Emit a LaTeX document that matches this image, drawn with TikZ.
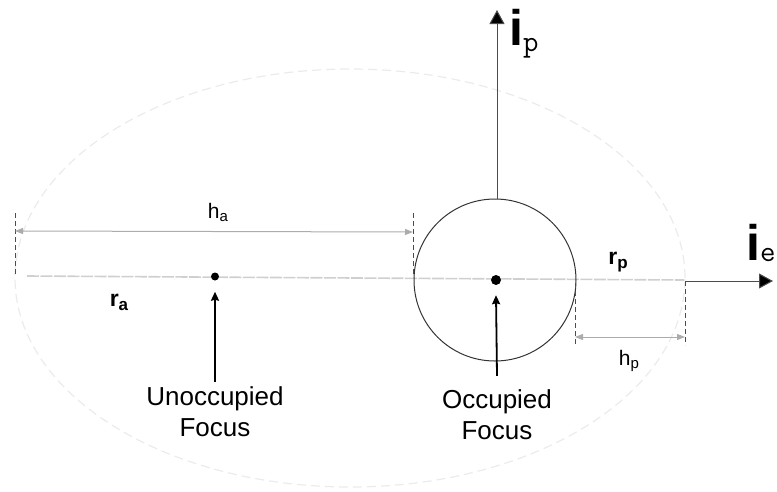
\documentclass[tikz,border=0pt]{standalone}
\usepackage{fontspec}
\setmainfont{Liberation Sans}
\usetikzlibrary{arrows.meta}
\newcommand{\hsub}[1]{\raisebox{-3pt}{\fontsize{15}{15}\selectfont #1}}
\newcommand{\rsub}[1]{\raisebox{-4pt}{\fontsize{17}{17}\selectfont\bfseries #1}}
\newcommand{\axsub}[2]{\raisebox{#1}{\fontsize{30}{30}\selectfont\mdseries\ttfamily #2}}
\begin{document}
\begin{tikzpicture}[x=1pt,y=-1pt,
  orbit/.style={draw=gray!16, line width=1.2pt, dash pattern=on 9pt off 5pt},
  axisline/.style={draw=gray!38, line width=1.6pt, dash pattern=on 12pt off 1.5pt},
  planet/.style={circle, draw=black!80, line width=1pt, minimum size=162pt, inner sep=0pt},
  dot/.style={circle, fill=black, inner sep=0pt},
  guide/.style={draw=black!70, line width=0.9pt, dash pattern=on 5pt off 3pt},
  dimline/.style={draw=gray!65, line width=1pt, {Triangle[length=8pt,width=6pt]}-{Triangle[length=8pt,width=6pt]}},
  pointer/.style={draw=black, line width=1.8pt, -{Stealth[length=9pt,width=8pt,inset=1pt]}},
  axisarr/.style={draw=black!70, line width=1pt, -{Triangle[length=14pt,width=15pt,fill=black]}},
  lbl/.style={font=\fontsize{26}{31}\selectfont, align=center, inner sep=0pt},
  dimlbl/.style={font=\fontsize{21}{24}\selectfont, inner sep=0pt},
  rlbl/.style={font=\fontsize{23}{26}\selectfont\bfseries, inner sep=0pt},
  axlbl/.style={font=\fontsize{50}{50}\selectfont\bfseries, inner sep=0pt, anchor=base west}
]
\useasboundingbox (0,0) rectangle (777,491);
% faint orbit
\draw[orbit] (350,278) ellipse [x radius=335pt, y radius=209pt];
% apse line
\coordinate (axL) at (27,276);
\coordinate (axR) at (684,280);
\draw[axisline] (axL) -- (axR);
% planet and foci
\node[planet] (planet) at (495,280) {};
\node[dot, minimum size=8pt] (ufoc) at (215,276.5) {};
\node[dot, minimum size=10pt] (ofoc) at (496,280) {};
% guides
\coordinate (gA1) at (15,213); \coordinate (gA2) at (15,274);
\coordinate (gB1) at (413,213); \coordinate (gB2) at (413,277);
\coordinate (gC1) at (575,283); \coordinate (gC2) at (575,345);
\coordinate (gD1) at (685,281); \coordinate (gD2) at (685,345);
\draw[guide] (gA1) -- (gA2);
\draw[guide] (gB1) -- (gB2);
\draw[guide] (gC1) -- (gC2);
\draw[guide] (gD1) -- (gD2);
% dimension lines
\coordinate (haL) at (15,231); \coordinate (haR) at (413,232);
\draw[dimline] (haL) -- (haR);
\coordinate (hpL) at (575,337); \coordinate (hpR) at (685,337);
\draw[dimline] (hpL) -- (hpR);
\node[dimlbl] (ha) at (218,212) {h\hsub{a}};
\node[dimlbl] (hp) at (629,361) {h\hsub{p}};
\node[rlbl] (ra) at (119,302) {r\rsub{a}};
\node[rlbl] (rp) at (618,262) {r\rsub{p}};
% focus labels
\node[lbl] (ulbl) at (215,412) {Unoccupied\\Focus};
\node[lbl] (olbl) at (497,415) {Occupied\\Focus};
\draw[pointer] ([yshift=5pt]ulbl.north) -- ([yshift=-11pt]ufoc.south);
\draw[pointer] ([yshift=14pt]olbl.north) -- ([yshift=-10pt]ofoc.south);
% unit vectors
\coordinate (iptip) at (497,10);
\draw[axisarr] (iptip |- planet.north) -- (iptip);
\coordinate (ietip) at (773,281);
\draw[axisarr] (gD1) -- (ietip);
\node[axlbl] (iplbl) at (509,45) {i\axsub{-6pt}{p}};
\node[axlbl] (ielbl) at (746,260) {i\axsub{-1pt}{e}};
\end{tikzpicture}
\end{document}
